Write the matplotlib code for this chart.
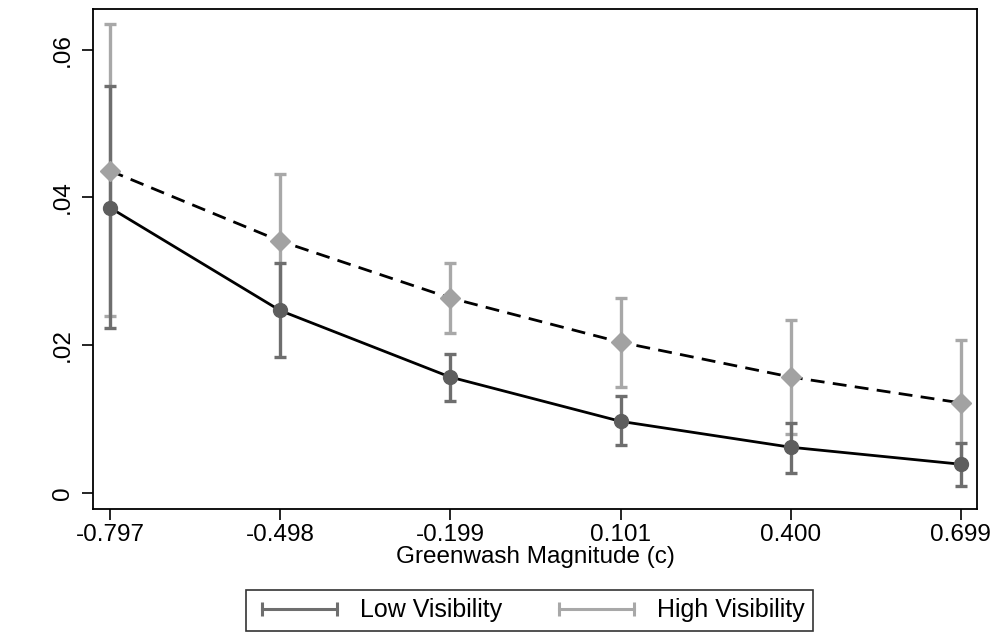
import numpy as np
import matplotlib.pyplot as plt
from matplotlib.lines import Line2D

plt.rcParams["font.family"] = ["Liberation Sans", "DejaVu Sans"]

magnitude = [-0.797, -0.498, -0.199, 0.101, 0.400, 0.699]
tick_labels = ["-0.797", "-0.498", "-0.199", "0.101", "0.400", "0.699"]

low_est = [0.0386, 0.0247, 0.0157, 0.0097, 0.0062, 0.0039]
low_hi = [0.0551, 0.0311, 0.0188, 0.0131, 0.0095, 0.0068]
low_lo = [0.0223, 0.0184, 0.0124, 0.0065, 0.0027, 0.0009]

high_est = [0.0436, 0.0341, 0.0264, 0.0204, 0.0157, 0.0122]
high_hi = [0.0635, 0.0432, 0.0311, 0.0264, 0.0234, 0.0207]
high_lo = [0.0239, 0.0249, 0.0216, 0.0143, 0.0080, 0.0036]

low_color = "#5e5e5e"
low_bar = "#6e6e6e"
high_color = "#a2a2a2"
high_bar = "#a8a8a8"

fig = plt.figure(figsize=(9.97, 6.40), dpi=100)
ax = fig.add_axes([0.0933, 0.2047, 0.8867, 0.7813])

x = np.array(magnitude)


def _bars(ax, est, lo, hi, color, z):
  est, lo, hi = np.array(est), np.array(lo), np.array(hi)
  ax.errorbar(x, est, yerr=[est - lo, hi - est], fmt="none", ecolor=color,
              elinewidth=2.4, capsize=4.5, capthick=2.4, zorder=z)


_bars(ax, high_est, high_lo, high_hi, high_bar, 2)
_bars(ax, low_est, low_lo, low_hi, low_bar, 3)

ax.plot(x, high_est, color="black", linestyle=(0, (5, 3)), linewidth=2,
        zorder=4)
ax.plot(x, low_est, color="black", linewidth=2, zorder=4)
ax.plot(x, high_est, linestyle="none", marker="D", markersize=10,
        color=high_color, zorder=5)
ax.plot(x, low_est, linestyle="none", marker="o", markersize=10,
        color=low_color, zorder=5)

ax.set_xlim(-0.827, 0.728)
ax.set_ylim(-0.00216, 0.0655)
ax.set_xticks(magnitude)
ax.set_xticklabels(tick_labels)
ax.set_yticks([0, 0.02, 0.04, 0.06])
ax.set_yticklabels(["0", ".02", ".04", ".06"], rotation=90, va="center")
ax.tick_params(axis="both", direction="out", length=8, width=1.2,
               labelsize=17.5, colors="black")
ax.tick_params(axis="x", pad=3)
ax.tick_params(axis="y", pad=6)
for spine in ax.spines.values():
  spine.set_linewidth(1.3)

ax.set_xlabel("Greenwash Magnitude (c)", fontsize=17.5, labelpad=0)

handles = [
  Line2D([0], [0], color=low_bar, linewidth=2.2, marker="|",
         markersize=10, markeredgewidth=2.2),
  Line2D([0], [0], color=high_bar, linewidth=2.2, marker="|",
         markersize=10, markeredgewidth=2.2),
]
ax.legend(handles, ["Low Visibility", "High Visibility"], ncol=2,
          numpoints=2, loc="center", bbox_to_anchor=(0.494, -0.203),
          frameon=True, fancybox=False, edgecolor="black", fontsize=18,
          handlelength=3.6, handletextpad=0.6, columnspacing=2.0,
          borderpad=0.35, borderaxespad=0)
ax.get_legend().get_frame().set_linewidth(1.2)

fig.savefig("out.png", dpi=100)
